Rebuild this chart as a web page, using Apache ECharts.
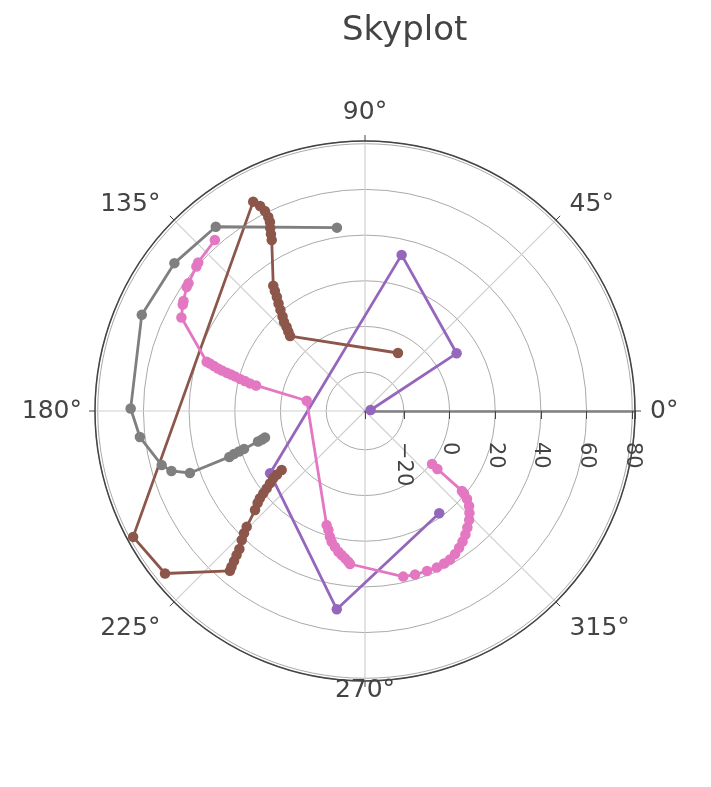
<!DOCTYPE html>
<html>
<head>
<meta charset="utf-8">
<title>Skyplot</title>
<script src="https://cdn.jsdelivr.net/npm/echarts@6/dist/echarts.min.js"></script>
<style>
  html, body { margin: 0; padding: 0; background: #fff; }
  #chart { width: 711px; height: 787px; }
</style>
</head>
<body>
<div id="chart"></div>
<script>
// Satellite tracks: azimuth (deg) and radial value for each trace
const purpleTheta = [10.0, 32.2, 76.8, 213.3, 261.9, 306.0];
const purpleR     = [-34.5, 10.4, 33.2, 12.7, 50.7, 18.3];

const brownTheta = [60.4, 135.0, 134.0, 133.0, 132.3, 131.1, 129.9, 128.8, 127.7, 126.9, 126.2,
                    118.6, 118.0, 117.4, 116.7, 116.5, 116.6, 117.1, 118.1,
                    208.5, 219.1, 229.8, 229.4, 228.9, 228.3, 227.7, 226.3, 225.3, 224.4,
                    222.0, 220.6, 219.7, 219.0, 218.2, 217.3, 216.3, 215.8, 215.3];
const brownR     = [-7.8, 9.4, 11.3, 13.3, 15.7, 17.9, 20.7, 23.4, 26.1, 28.7, 31.0,
                    48.3, 50.7, 53.2, 55.6, 57.9, 60.9, 63.8, 66.9,
                    78.5, 75.8, 54.6, 52.8, 50.2, 47.5, 44.7, 41.1, 38.3, 35.5,
                    27.8, 24.9, 22.8, 20.3, 17.8, 15.3, 12.8, 10.5, 7.7];

const pinkTheta = [131.3, 138.3, 139.4, 144.1, 145.2, 148.8, 149.7, 153.0,
                   162.7, 163.0, 163.4, 163.9, 164.2, 164.5, 164.8, 165.1, 165.6, 166.0, 166.5, 166.8,
                   170.0,
                   251.4, 252.9, 254.4, 255.7, 257.5, 259.3, 260.8, 262.3, 263.7, 264.4,
                   283.0, 287.0, 291.2, 294.6, 297.4, 299.8, 302.2, 304.5, 306.8, 309.1,
                   311.3, 313.7, 315.7, 317.6, 319.2, 320.2, 320.5, 321.3, 321.7];
const pinkR     = [62.6, 60.8, 60.2, 58.4, 58.1, 55.9, 55.4, 53.2,
                   35.6, 34.0, 32.0, 30.0, 28.1, 25.8, 23.8, 21.9, 19.5, 17.2, 14.8, 12.0,
                   -11.1,
                   15.7, 17.5, 20.1, 22.1, 23.9, 25.7, 26.9, 28.1, 29.4, 30.3,
                   37.4, 37.9, 38.1, 38.4, 38.2, 37.9, 37.0, 35.7, 34.3, 32.7,
                   30.9, 29.0, 26.9, 24.7, 22.0, 19.4, 18.0, 3.6, 0.4];

const grayTheta = [98.7, 129.0, 142.2, 156.7, 179.4, 186.6, 194.9, 197.2, 199.5,
                   198.7, 198.2, 197.8, 197.4, 195.9, 195.5, 194.8];
const grayR     = [44.2, 66.8, 68.6, 69.4, 65.6, 62.2, 55.1, 51.7, 44.3,
                   25.7, 23.4, 20.9, 18.5, 11.7, 9.8, 8.3];

// Axis settings
const radialMin = -37;
const radialMax = 81.2;
const angleTicks = [0, 45, 90, 135, 180, 225, 270, 315];

const FONT = 'DejaVu Sans';
const TEXT = '#444';
const ANGLE_FONT = 25;

// Per-direction text box tweaks for the azimuth labels
const angleRich = {
  a0:   { padding: [0, 0, 0, 7] },
  a45:  { lineHeight: 19, padding: [0, 0, 0, 8] },
  a90:  { lineHeight: 42 },
  a135: { lineHeight: 19, padding: [0, 8, 0, 0] },
  a180: { padding: [0, 5, 0, 0] },
  a225: { lineHeight: 41, padding: [0, 8, 0, 0] },
  a270: { lineHeight: 2 },
  a315: { lineHeight: 41, padding: [0, 0, 0, 8] }
};
Object.keys(angleRich).forEach(k => {
  Object.assign(angleRich[k], { fontFamily: FONT, fontSize: ANGLE_FONT, color: TEXT });
});

function pairs(rs, ts) {
  return rs.map((r, i) => [r, ts[i]]);
}

function track(name, color, rs, ts) {
  return {
    name: name,
    type: 'line',
    coordinateSystem: 'polar',
    data: pairs(rs, ts),
    symbol: 'circle',
    symbolSize: 10.5,
    showSymbol: true,
    lineStyle: { color: color, width: 2.8 },
    itemStyle: { color: color },
    emphasis: { disabled: true }
  };
}

const chart = echarts.init(document.getElementById('chart'), null, { renderer: 'canvas' });
chart.setOption({
  animation: false,
  backgroundColor: '#fff',
  title: {
    text: 'Skyplot',
    left: 337,
    top: 9,
    textStyle: { fontFamily: FONT, fontSize: 34, fontWeight: 'normal', color: TEXT }
  },
  polar: { center: [365, 411], radius: 270 },
  angleAxis: {
    type: 'value',
    min: 0,
    max: 360,
    interval: 45,
    startAngle: 0,
    clockwise: false,
    axisLine: { show: true, lineStyle: { color: '#444', width: 1.5 } },
    axisTick: { show: true, length: 6, lineStyle: { color: '#444', width: 1 } },
    axisLabel: {
      formatter: v => (angleTicks.includes(v) ? '{a' + v + '|' + v + '°}' : ''),
      rich: angleRich,
      fontFamily: FONT, fontSize: ANGLE_FONT, color: TEXT, margin: 8
    },
    splitLine: { show: true, lineStyle: { color: '#d0d0d0', width: 1.2 } }
  },
  radiusAxis: {
    type: 'value',
    min: radialMin,
    max: radialMax,
    splitNumber: 6,
    axisLine: { show: true, lineStyle: { color: '#808080', width: 2.5 } },
    axisTick: { show: true, length: -8, lineStyle: { color: '#444', width: 1 } },
    axisLabel: {
      rotate: -90,
      margin: -31,
      align: 'left',
      verticalAlign: 'middle',
      padding: [12, 0, 0, 0],
      fontFamily: FONT, fontSize: 21, color: TEXT,
      formatter: v => {
        if (Math.abs(v % 20) > 1e-6) return '';
        return v < 0 ? '\u2212' + Math.abs(v) : String(v);
      }
    },
    splitLine: { show: true, lineStyle: { color: '#aaaaaa', width: 1 } }
  },
  series: [
    track('purple', '#9467bd', purpleR, purpleTheta),
    track('brown', '#8c564b', brownR, brownTheta),
    track('pink', '#e377c2', pinkR, pinkTheta),
    track('gray', '#7f7f7f', grayR, grayTheta)
  ]
});
</script>
</body>
</html>
